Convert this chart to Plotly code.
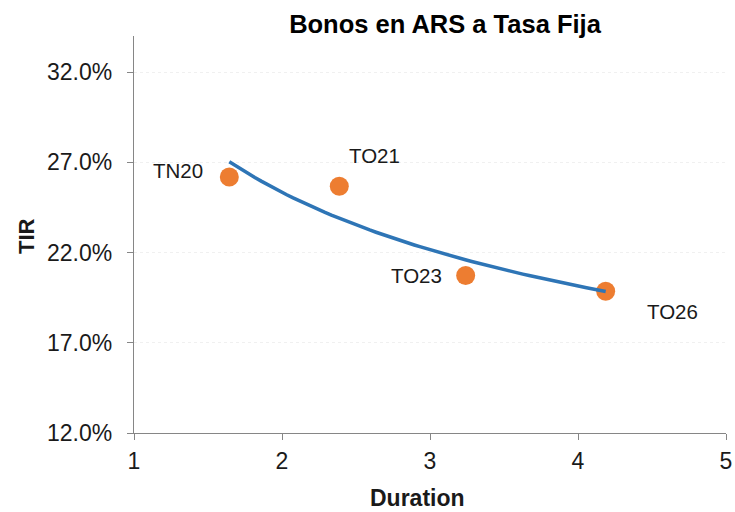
import numpy as np
import plotly.graph_objects as go

bonds = ["TN20", "TO21", "TO23", "TO26"]
duration = [1.644, 2.387, 3.241, 4.187]
tir = [26.19, 25.67, 20.73, 19.86]  # percent
label_shift_x = [-51, 35, -49, 67]
label_shift_y = [6, 31, 0, -20]

y_ticks = [12, 17, 22, 27, 32]
x_ticks = [1, 2, 3, 4, 5]

# power trendline fitted to the data (Excel-style)
lx, ly = np.log(duration), np.log(tir)
b, a = np.polyfit(lx, ly, 1)
xt = np.linspace(min(duration), max(duration), 60)
yt = np.exp(a) * xt ** b

FONT = "Liberation Sans, Arial, sans-serif"
L, R, T, B = 134, 9, 36, 79
PW, PH = 735 - L - R, 512 - T - B

fig = go.Figure()
fig.add_trace(go.Scatter(x=duration, y=tir, mode="markers",
                         marker=dict(color="#ED7D31", size=19), showlegend=False))
fig.add_trace(go.Scatter(x=xt, y=yt, mode="lines",
                         line=dict(color="#2E75B6", width=3.5), showlegend=False))

for name, x, y, dx, dy in zip(bonds, duration, tir, label_shift_x, label_shift_y):
    fig.add_annotation(x=x, y=y, text=name, showarrow=False, xshift=dx, yshift=dy,
                       font=dict(family=FONT, size=20.5, color="#1a1a1a"))

# axis titles
fig.add_annotation(xref="paper", yref="paper", x=(26 - L) / PW, y=(512 - B - 236) / PH,
                   text="<b>TIR</b>", textangle=-90, showarrow=False,
                   xanchor="center", yanchor="middle", borderpad=0,
                   font=dict(family=FONT, size=22, color="#1a1a1a"))
fig.add_annotation(xref="paper", yref="paper", x=(417.5 - L) / PW, y=(512 - B - 497.5) / PH,
                   text="<b>Duration</b>", showarrow=False,
                   xanchor="center", yanchor="middle", borderpad=0,
                   font=dict(family=FONT, size=23, color="#1a1a1a"))

fig.update_layout(
    width=735, height=512,
    margin=dict(l=L, r=R, t=T, b=B, autoexpand=False),
    paper_bgcolor="white", plot_bgcolor="white",
    title=dict(text="<b>Bonos en ARS a Tasa Fija</b>", x=445 / 735, xanchor="center",
               y=1 - 24 / 512, yanchor="middle",
               font=dict(family=FONT, size=25.5, color="black")),
    font=dict(family=FONT, size=23, color="#1a1a1a"),
)
fig.update_xaxes(range=[1, 5], tickvals=x_ticks, showline=True, linecolor="#868686",
                 linewidth=1.3, ticks="outside", ticklen=6, tickcolor="#868686",
                 showgrid=False, zeroline=False, ticklabelstandoff=1, automargin=False)
fig.update_yaxes(range=[12, 34], tickvals=y_ticks,
                 ticktext=[f"{v:.1f}%" for v in y_ticks],
                 showline=True, linecolor="#868686", linewidth=1.3,
                 ticks="outside", ticklen=6, tickcolor="#868686",
                 showgrid=True, gridcolor="#f0f0f0", griddash="dot", gridwidth=1,
                 zeroline=False, ticklabelstandoff=10, automargin=False)

fig.write_html("out.html")
